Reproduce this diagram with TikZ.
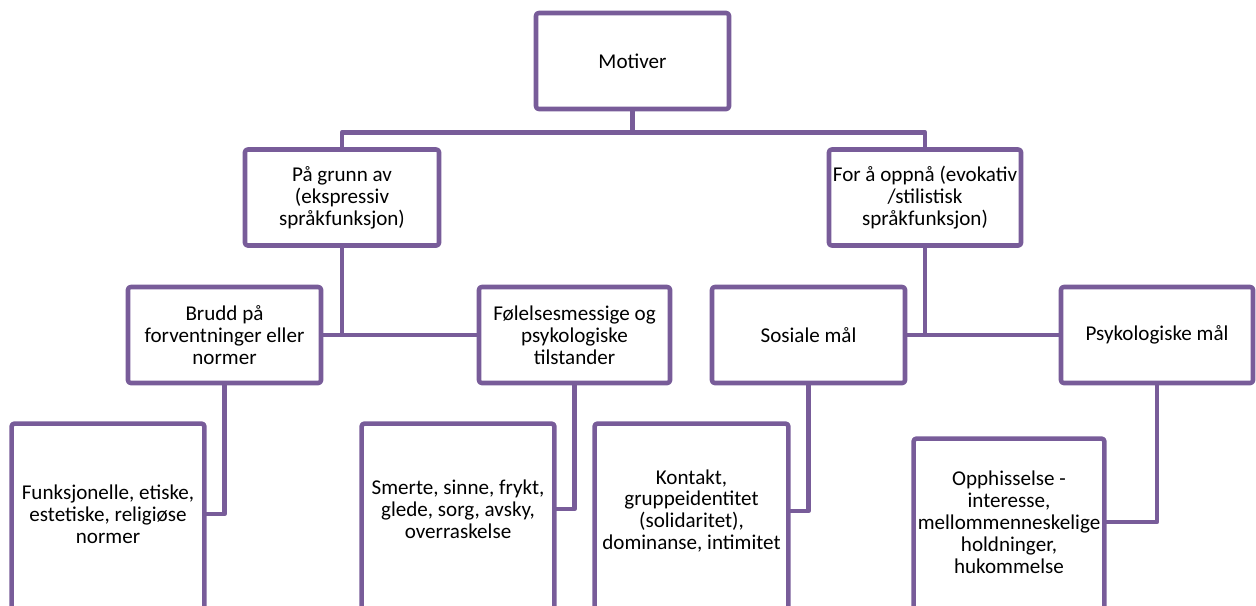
\documentclass[tikz,border=0pt]{standalone}
\usepackage{fontspec}
\setmainfont{Carlito}
\definecolor{lilla}{RGB}{120,92,153}
\begin{document}
\begin{tikzpicture}[x=0.02cm,y=-0.02cm,font=\fontsize{12}{12.5}\selectfont,line join=round]
	\tikzset{kant/.style={draw=lilla,line width=2.6pt},
		boks/.style={kant,rounded corners=1.5pt,fill=white,align=center,inner sep=0pt,minimum width=#1*0.02cm,minimum height=1.92cm},
		blad/.style 2 args={align=center,inner sep=0pt,minimum width=#1*0.02cm,minimum height=#2*0.02cm}}
	\useasboundingbox (0,0) rectangle (1256,605);
	% nivaa 0 og 1
	\node[boks=193] (mot) at (632.5,61) {Motiver};
	\node[boks=194] (grunn) at (342,197.5) {På grunn av\\(ekspressiv\\språkfunksjon)};
	\node[boks=192] (oppna) at (925,197.5) {For å oppnå (evokativ\\/stilistisk\\språkfunksjon)};
	% nivaa 2
	\node[boks=193] (brudd) at (224.5,335) {Brudd på\\forventninger eller\\normer};
	\node[boks=191] (folelse) at (574.5,335) {Følelsesmessige og\\psykologiske\\tilstander};
	\node[boks=193] (sosial) at (808.5,335) {Sosiale mål};
	\node[boks=192] (psyk) at (1157,335) {Psykologiske mål};
	% nivaa 3, kuttet nederst
	\node[blad={192}{180}] (funk) at (108,514) {Funksjonelle, etiske,\\estetiske, religiøse\\normer};
	\node[blad={192}{170}] (smerte) at (458,509) {Smerte, sinne, frykt,\\glede, sorg, avsky,\\overraskelse};
	\node[blad={193}{174}] (kontakt) at (691.5,511) {Kontakt,\\gruppeidentitet\\(solidaritet),\\dominanse, intimitet};
	\node[blad={190}{166}] (opph) at (1009,522) {Opphisselse -\\interesse,\\mellommenneskelige\\holdninger,\\hukommelse};
	\foreach \n in {funk,smerte,kontakt,opph}
	\draw[kant,rounded corners=1.5pt] ([yshift=-1cm]\n.south west)--(\n.north west)--(\n.north east)--([yshift=-1cm]\n.south east);
	% linjer
	\draw[kant] (mot.south)--++(0,21) coordinate (bar);
	\draw[kant] (grunn.north) |- (bar) -| (oppna.north);
	\draw[kant] (grunn.south)--(grunn.south |- brudd.east);
	\draw[kant] (brudd.east)--(folelse.west);
	\draw[kant] (oppna.south)--(oppna.south |- sosial.east);
	\draw[kant] (sosial.east)--(psyk.west);
	\draw[kant] (brudd.south) |- (funk.east);
	\draw[kant] (folelse.south) |- (smerte.east);
	\draw[kant] (sosial.south) |- (kontakt.east);
	\draw[kant] (psyk.south) |- (opph.east);
\end{tikzpicture}
\end{document}
